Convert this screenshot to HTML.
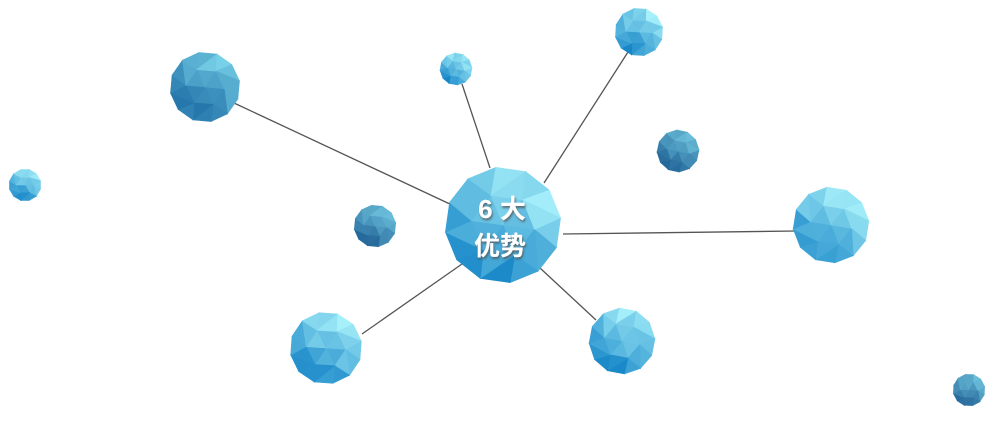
<!DOCTYPE html>
<html><head><meta charset="utf-8">
<style>
html,body{margin:0;padding:0;background:#fff;}
svg{display:block;}
</style></head>
<body>
<svg id="s" width="1000" height="428" viewBox="0 0 1000 428" xmlns="http://www.w3.org/2000/svg">
<defs>
<filter id="ts" x="-20%" y="-20%" width="140%" height="140%">
<feDropShadow dx="1" dy="2" stdDeviation="1" flood-color="#555" flood-opacity="0.8"/>
</filter>
</defs>
<g stroke="#555" stroke-width="1.3">
<line x1="234" y1="103" x2="452" y2="205"/>
<line x1="462" y1="84" x2="490" y2="168"/>
<line x1="628" y1="52" x2="544" y2="183"/>
<line x1="563" y1="234" x2="797" y2="231"/>
<line x1="362" y1="334" x2="462" y2="264"/>
<line x1="540" y1="268" x2="596" y2="320"/>
</g>
<g id="balls"></g>
<text x="502" y="218" text-anchor="middle" font-family="Liberation Sans, Noto Sans CJK SC, sans-serif" font-size="26" font-weight="bold" fill="#fff" filter="url(#ts)">6 大</text>
<text x="500" y="255" text-anchor="middle" font-family="Liberation Sans, Noto Sans CJK SC, sans-serif" font-size="26" font-weight="bold" fill="#fff" filter="url(#ts)">优势</text>
</svg>
<script>
(function(){
var NS="http://www.w3.org/2000/svg";
var g=document.getElementById("balls");
var seed=7;function rnd(){seed=(seed*9301+49297)%233280;return seed/233280;}
function hex(c){return [parseInt(c.substr(1,2),16),parseInt(c.substr(3,2),16),parseInt(c.substr(5,2),16)];}
function mix(a,b,t){t=Math.max(0,Math.min(1,t));return "rgb("+a.map(function(v,i){return Math.round(v+(b[i]-v)*t);}).join(",")+")";}
var pal={
 L:[hex("#1887c8"),hex("#a6f0fa")],
 M:[hex("#1a6aa3"),hex("#76d0e8")],
 D:[hex("#25689a"),hex("#6cc0dc")]
};
function ball(cx,cy,r,p,rot){
 var P=pal[p];rot=rot||0;
 var C=[0,0],I=[],O=[];
 for(var j=0;j<6;j++){var a=(60*j+rot)*Math.PI/180;I.push([0.55*Math.cos(a),0.55*Math.sin(a)]);}
 for(var k=0;k<12;k++){var a=(30*k+15+rot)*Math.PI/180;O.push([Math.cos(a),Math.sin(a)]);}
 var T=[];
 for(var j=0;j<6;j++){
  var jn=(j+1)%6;
  T.push([C,I[j],I[jn]]);
  T.push([I[j],O[(2*j+11)%12],O[2*j]]);
  T.push([I[j],O[2*j],O[2*j+1]]);
  T.push([I[j],O[2*j+1],I[jn]]);
 }
 T.forEach(function(t){
  var mx=(t[0][0]+t[1][0]+t[2][0])/3,my=(t[0][1]+t[1][1]+t[2][1])/3;
  var v=0.5+0.5*(mx*0.5-my*0.85)+(rnd()-0.5)*0.3;
  var pg=document.createElementNS(NS,"polygon");
  pg.setAttribute("points",t.map(function(q){return (cx+q[0]*r).toFixed(1)+","+(cy+q[1]*r).toFixed(1);}).join(" "));
  var col=mix(P[0],P[1],v);
  pg.setAttribute("fill",col);
  pg.setAttribute("stroke",col);
  pg.setAttribute("stroke-width","0.6");
  g.appendChild(pg);
 });
}
ball(503,225,58,"L",8);
ball(205,87,35,"M",5);
ball(25,185,16,"L",0);
ball(456,69,16,"L",10);
ball(639,32,24,"L",3);
ball(678,151,21,"D",12);
ball(375,226,21,"D",6);
ball(831,225,38,"L",9);
ball(326,348,36,"L",4);
ball(622,341,33,"L",11);
ball(969,390,16,"D",2);
})();
</script>
</body></html>
